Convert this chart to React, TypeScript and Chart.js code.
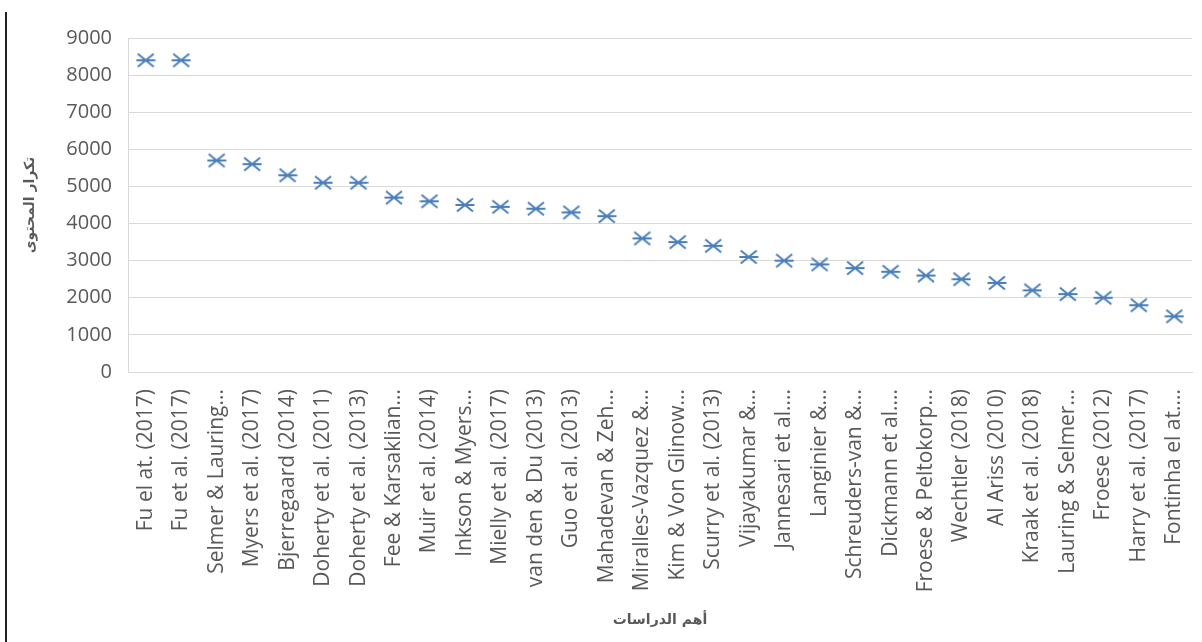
import React, { useEffect, useRef } from "react";
import { Chart, registerables } from "chart.js";

Chart.register(...registerables);

// Studies, ordered by how often their content appears
const studies: string[] = [
  "Fu el at. (2017)",
  "Fu et al. (2017)",
  "Selmer & Lauring...",
  "Myers et al. (2017)",
  "Bjerregaard (2014)",
  "Doherty et al. (2011)",
  "Doherty et al. (2013)",
  "Fee & Karsaklian...",
  "Muir et al. (2014)",
  "Inkson & Myers...",
  "Mielly et al. (2017)",
  "van den & Du (2013)",
  "Guo et al. (2013)",
  "Mahadevan & Zeh...",
  "Miralles-Vazquez &...",
  "Kim & Von Glinow...",
  "Scurry et al. (2013)",
  "Vijayakumar &...",
  "Jannesari et al....",
  "Langinier &...",
  "Schreuders-van &...",
  "Dickmann et al....",
  "Froese & Peltokorp...",
  "Wechtler (2018)",
  "Al Ariss (2010)",
  "Kraak et al. (2018)",
  "Lauring & Selmer...",
  "Froese (2012)",
  "Harry et al. (2017)",
  "Fontinha el at....",
];

// Content frequency for each study
const contentFrequency: number[] = [
  8400, 8400, 5700, 5600, 5300, 5100, 5100, 4700, 4600, 4500,
  4450, 4400, 4300, 4200, 3600, 3500, 3400, 3100, 3000, 2900,
  2800, 2700, 2600, 2500, 2400, 2200, 2100, 2000, 1800, 1500,
];

const yMin = 0;
const yMax = 9000;
const yStep = 1000;

const xTitle = "أهم الدراسات";
const yTitle = "تكرار المحتوى";

const MARK = "#4A7EBB";
const TEXT = "#595959";
const GRID = "#D9D9D9";

// Asterisk marker: a horizontal bar crossed by two diagonals
function makeAsterisk(): HTMLCanvasElement {
  const c = document.createElement("canvas");
  c.width = 20;
  c.height = 16;
  const g = c.getContext("2d")!;
  g.strokeStyle = MARK;
  g.lineWidth = 2;
  g.lineCap = "butt";
  g.beginPath();
  g.moveTo(2, 1.5);
  g.lineTo(18, 14.5);
  g.moveTo(18, 1.5);
  g.lineTo(2, 14.5);
  g.moveTo(0.5, 8);
  g.lineTo(19.5, 8);
  g.stroke();
  return c;
}

export default function App() {
  const canvasRef = useRef<HTMLCanvasElement>(null);

  useEffect(() => {
    document.body.style.margin = "0";
    const marker = makeAsterisk();
    const yTickFont = { family: "'Open Sans', sans-serif", size: 20 };
    const xTickFont = { family: "'Open Sans', sans-serif", size: 21 };
    const titleFont = { family: "'DejaVu Sans', sans-serif", size: 14, weight: "bold" as const };

    const chart = new Chart(canvasRef.current!, {
      type: "line",
      data: {
        labels: studies,
        datasets: [
          {
            data: contentFrequency,
            showLine: false,
            pointStyle: marker,
            pointRadius: 9,
            borderColor: MARK,
            backgroundColor: MARK,
          },
        ],
      },
      options: {
        animation: false,
        responsive: false,
        layout: { padding: { left: 0, right: 3, top: 38, bottom: 0 } },
        plugins: {
          legend: { display: false },
          tooltip: { enabled: false },
        },
        scales: {
          x: {
            offset: true,
            grid: { display: false },
            border: { display: true, color: GRID },
            ticks: {
              autoSkip: false,
              minRotation: 90,
              maxRotation: 90,
              padding: 9,
              color: TEXT,
              font: xTickFont,
            },
            title: {
              display: true,
              text: xTitle,
              color: TEXT,
              font: titleFont,
              padding: { top: 0, bottom: 13 },
            },
            afterFit: (scale: any) => {
              scale.height = 270;
              scale.paddingLeft = 0;
              scale.paddingRight = 0;
            },
          },
          y: {
            min: yMin,
            max: yMax,
            grid: { color: GRID, drawTicks: false },
            border: { display: true, color: GRID },
            ticks: {
              stepSize: yStep,
              padding: 16,
              color: TEXT,
              font: yTickFont,
              callback: (v: any) => String(v),
            },
            title: {
              display: true,
              text: yTitle,
              color: TEXT,
              font: titleFont,
              padding: { top: 22, bottom: 0 },
            },
            afterFit: (scale: any) => {
              scale.width = 128;
            },
          },
        },
      },
    });

    return () => chart.destroy();
  }, []);

  return (
    <div style={{ position: "relative", width: 1202, height: 642, background: "#fff" }}>
      <div
        style={{
          position: "absolute",
          left: 5,
          top: 12,
          width: 2,
          height: 630,
          background: "#222",
        }}
      />
      <canvas
        ref={canvasRef}
        width={1202}
        height={642}
        style={{ position: "absolute", left: 0, top: 0, display: "block" }}
      />
    </div>
  );
}
